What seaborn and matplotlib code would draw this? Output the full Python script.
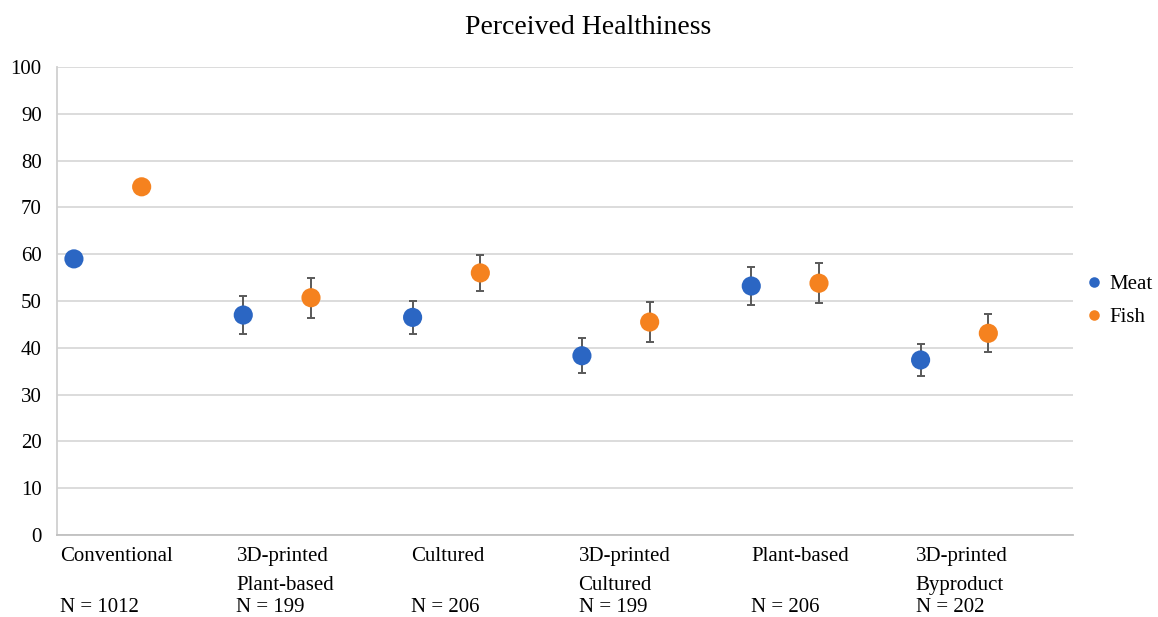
import matplotlib
matplotlib.use("Agg")
import matplotlib.pyplot as plt
import matplotlib.transforms as mtransforms
import numpy as np
import pandas as pd
import seaborn as sns

# values
categories = ["Conventional", "3D-printed\nPlant-based", "Cultured",
              "3D-printed\nCultured", "Plant-based", "3D-printed\nByproduct"]
sample_sizes = [1012, 199, 206, 199, 206, 202]
meat_scores = [59.0, 47.0, 46.5, 38.3, 53.2, 37.4]
meat_err = [1.2, 4.1, 3.6, 3.7, 4.1, 3.5]
fish_scores = [74.4, 50.7, 56.0, 45.5, 53.8, 43.1]
fish_err = [0.6, 4.3, 3.9, 4.3, 4.3, 4.1]

blue = "#2B66C3"
orange = "#F5821F"

sns.set_style("white")
plt.rcParams["font.family"] = ["Liberation Serif", "DejaVu Serif"]
plt.rcParams["text.color"] = "black"
plt.rcParams["ytick.color"] = "black"

idx = np.arange(len(categories))
df = pd.DataFrame({
    "pos": np.concatenate([idx + 0.1, idx + 0.5]),
    "score": meat_scores + fish_scores,
    "err": meat_err + fish_err,
    "product": ["Meat"] * len(idx) + ["Fish"] * len(idx),
})

fig = plt.figure(figsize=(11.58, 6.17), dpi=100)
ax = fig.add_axes([57 / 1158, 82 / 617, 1016 / 1158, 468 / 617])

# error bars first so the dots sit on top
ax.errorbar(df["pos"], df["score"], yerr=df["err"], fmt="none",
            ecolor="#595959", elinewidth=1.4, capsize=3.2, capthick=1.4, zorder=2)
sns.scatterplot(data=df, x="pos", y="score", hue="product",
                palette={"Meat": blue, "Fish": orange},
                s=190, edgecolor="none", zorder=3, ax=ax)

ax.set_xlim(0, 6)
ax.set_ylim(0, 100)
ax.set_yticks(range(0, 101, 10))
ax.set_xticks([])
ax.set_xlabel("")
ax.set_ylabel("")
ax.tick_params(axis="y", length=0, labelsize=15, pad=11, labelcolor="black")
ax.yaxis.grid(True, color="#D9D9D9", linewidth=1.3)
ax.set_axisbelow(True)
for side in ["top", "right"]:
    ax.spines[side].set_visible(False)
ax.spines["left"].set_color("#D0D0D0")
ax.spines["bottom"].set_color("#C0C0C0")
ax.spines["left"].set_linewidth(1.3)
ax.spines["bottom"].set_linewidth(1.3)

fig.text(588 / 1158, 1 - 28 / 617, "Perceived Healthiness", ha="center", va="center",
         fontsize=20, color="black")

# category labels under the axis
trans = mtransforms.blended_transform_factory(ax.transData, fig.transFigure)
label_x = [0.02, 1.06, 2.09, 3.08, 4.10, 5.07]
for lx, cat, n in zip(label_x, categories, sample_sizes):
    ax.text(lx, 1 - 547 / 617, cat, transform=trans, ha="left", va="top",
            fontsize=15, linespacing=1.7, color="black")
    ax.text(lx, 1 - 607 / 617, f"N = {n}", transform=trans, ha="left", va="center",
            fontsize=15, color="black")

leg = ax.legend(loc="center left", bbox_to_anchor=(1086 / 1158, 1 - 301 / 617),
                bbox_transform=fig.transFigure, frameon=False, fontsize=15,
                markerscale=0.55, handlelength=0.8, handletextpad=0.3,
                labelspacing=0.65, borderaxespad=0, borderpad=0, title=None)
for t in leg.get_texts():
    t.set_color("black")

fig.savefig("out.png", dpi=100)
